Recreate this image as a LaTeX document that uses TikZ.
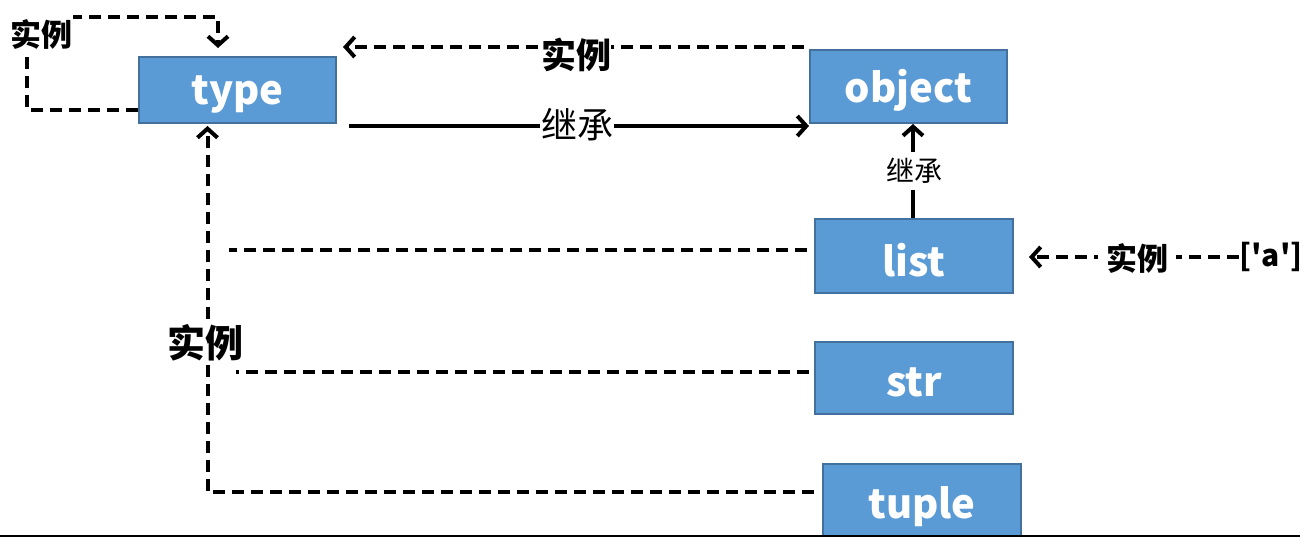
\documentclass[tikz,border=0pt]{standalone}
\usepackage{fontspec}
\newfontfamily\cjk{Noto Sans CJK SC}
\usetikzlibrary{arrows.meta}
\definecolor{boxblue}{HTML}{5B9BD5}
\definecolor{boxline}{HTML}{41719C}
\newcommand\lowr[1]{\raisebox{-4pt}[\height][\depth]{#1}}
\tikzset{
  cls/.style={fill=boxblue,draw=boxline,line width=2pt,text=white,
    font=\cjk\bfseries\fontsize{40}{44}\selectfont,inner sep=0pt},
  tip/.style={-{Straight Barb[length=9pt,width=20pt,line width=4pt]}},
  dl/.style={line width=4pt,dash pattern=on 12pt off 7pt},
  sl/.style={line width=4pt},
  lblb/.style={font=\cjk\bfseries\fontsize{#1}{#1}\selectfont,fill=white,inner sep=0pt},
  lblr/.style={font=\cjk\fontsize{#1}{#1}\selectfont,fill=white,inner sep=1pt},
}
\begin{document}
\begin{tikzpicture}[x=1pt,y=-1pt]
\useasboundingbox (0,0) rectangle (1304,537);
\clip (0,0) rectangle (1304,537);
% classes
\node[cls,minimum width=197pt,minimum height=66pt] (type) at (237.5,90) {\lowr{type}};
\node[cls,minimum width=197pt,minimum height=73pt] (object) at (908.5,86.5) {\lowr{object}};
\node[cls,minimum width=198pt,minimum height=74pt] (list) at (914,256) {\lowr{list}};
\node[cls,minimum width=198pt,minimum height=72pt] (str) at (914,378) {\lowr{str}};
\node[cls,minimum width=198pt,minimum height=78pt] (tuple) at (922,503) {\lowr{tuple}};
\node[font=\cjk\bfseries\fontsize{30}{30}\selectfont,inner sep=0pt] (aa) at (1271,257) {['a']};
% self loop on type
\coordinate (l1) at (27,110);
\coordinate (l2) at (27,17);
\coordinate (l3) at (218,17);
\draw[dl,tip] ([yshift=-20pt]type.west) -- (l1) -- (l2) -- (l3) -- ([xshift=-19.5pt,yshift=8pt]type.north);
\node[lblb=31,minimum width=64pt,minimum height=42pt] (lloop) at (41,34) {实例};
% object -> type (instance)
\draw[dl,tip] ([xshift=-5pt,yshift=2pt]object.north west) -- ([xshift=6pt,yshift=9pt]type.north east);
\node[lblb=35] (ltop) at (576,55) {实例};
% type inherits object
\draw[sl,tip] ([xshift=12pt,yshift=-2pt]type.south east) -- ([yshift=-2pt]object.south west);
\node[lblr=36] (linh) at (577,125) {继承};
% list inherits object
\draw[sl,tip] ([xshift=-1pt]list.north) -- ([xshift=-1pt]list.north |- object.south);
\node[lblr=28,inner ysep=6pt] (linh2) at (914,171) {继承};
% ['a'] instance of list
\draw[dl,tip] (aa.west) -- ([xshift=15pt]list.east |- aa.west);
\node[lblb=31,inner xsep=8pt] (lright) at (1137,258) {实例};
% list, str, tuple instances of type
\draw[dl] ([xshift=-7pt,yshift=6pt]list.west) -- ++(-578,0);
\draw[dl] ([xshift=-5pt,yshift=6pt]str.west) -- ++(-573,0);
\draw[dl,tip] ([xshift=-8pt,yshift=11pt]tuple.west) -| ([xshift=-30pt,yshift=-2pt]type.south);
\node[lblb=38,inner ysep=4pt] (lleft) at (205,343) {实例};
% bottom rule
\coordinate (b1) at (0,536);
\coordinate (b2) at (1300,536);
\draw[line width=1.5pt] (b1) -- (b2);
\end{tikzpicture}
\end{document}
